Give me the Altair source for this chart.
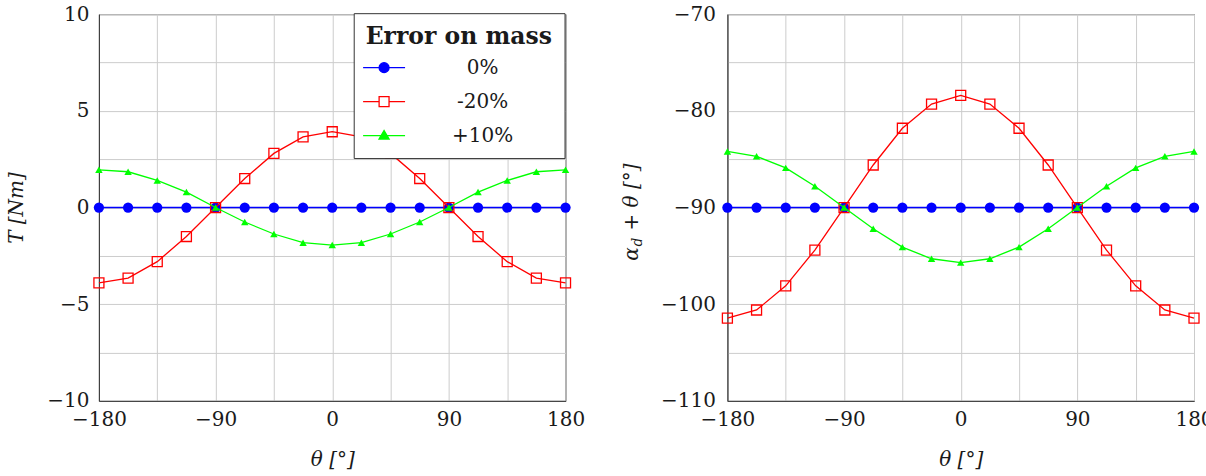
import altair as alt
import pandas as pd

# ---- data -------------------------------------------------------------
theta_deg = [-180, -157.5, -135, -112.5, -90, -67.5, -45, -22.5, 0,
             22.5, 45, 67.5, 90, 112.5, 135, 157.5, 180]

series_names = ["0%", "-20%", "+10%"]

# Torque T [Nm] for each mass error
torque_nominal = [0, 0, 0, 0, 0, 0, 0, 0, 0, 0, 0, 0, 0, 0, 0, 0, 0]
torque_minus20 = [-3.9, -3.65, -2.8, -1.5, 0, 1.5, 2.8, 3.65, 3.92,
                  3.65, 2.8, 1.5, 0, -1.5, -2.8, -3.65, -3.9]
torque_plus10 = [1.95, 1.85, 1.4, 0.8, 0, -0.75, -1.37, -1.82, -1.94,
                 -1.82, -1.37, -0.75, 0, 0.8, 1.4, 1.85, 1.95]

# Angle alpha_d + theta [deg] for each mass error
angle_nominal = [-90, -90, -90, -90, -90, -90, -90, -90, -90,
                 -90, -90, -90, -90, -90, -90, -90, -90]
angle_minus20 = [-101.45, -100.6, -98.1, -94.4, -90, -85.6, -81.8, -79.3, -78.4,
                 -79.3, -81.8, -85.6, -90, -94.4, -98.1, -100.6, -101.45]
angle_plus10 = [-84.2, -84.7, -85.9, -87.8, -90, -92.2, -94.1, -95.3, -95.7,
                -95.3, -94.1, -92.2, -90, -87.8, -85.9, -84.7, -84.2]

x_grid = [-180, -135, -90, -45, 0, 45, 90, 135, 180]
torque_grid = [-10, -7.5, -5, -2.5, 0, 2.5, 5, 7.5, 10]
angle_grid = [-110, -105, -100, -95, -90, -85, -80, -75, -70]

# ---- styling ----------------------------------------------------------
BLUE, RED, GREEN = "#0000ff", "#ff0000", "#00ff00"
SERIF = "DejaVu Serif"
FS = 20
INK = "#1a1a1a"
PW, PH = 467, 387

styles = [
    # name, colour, shape, size, filled
    ("0%", BLUE, "circle", 105, True),
    ("-20%", RED, "square", 100, False),
    ("+10%", GREEN, "triangle-up", 55, True),
]

# Legend glyphs: a short line with the marker on it (unit = sqrt(size)/2 px)
legend_paths = [
    "M-1.8,0H4.2M1.91,0A0.71,0.71,0,1,1,0.49,0A0.71,0.71,0,1,1,1.91,0Z",
    "M-1.8,0H0.49M1.91,0H4.2M0.49,-0.71H1.91V0.71H0.49Z",
    "M-1.8,0H4.2M1.2,-0.72L1.92,0.5H0.48Z",
]


def long_table(columns):
    rows = []
    for name, vals in zip(series_names, columns):
        for t, v in zip(theta_deg, vals):
            rows.append({"theta": t, "value": v, "series": name})
    return pd.DataFrame(rows)


def x_encoding():
    return alt.X(
        "theta:Q",
        scale=alt.Scale(domain=[-180, 180], nice=False, zero=False),
        axis=alt.Axis(
            values=x_grid,
            labelExpr="datum.value % 90 === 0 ? datum.label : ''",
            labelFlush=False,
            title="θ [°]",
            titleFontStyle="italic",
            labelPadding=9,
            titlePadding=20,
        ),
    )


def series_layers(df, x_enc, y_enc):
    layers = []
    for name, col, shape, size, filled in styles:
        base = alt.Chart(df).transform_filter(alt.datum.series == name)
        layers.append(
            base.mark_line(color=col, strokeWidth=1.3).encode(x=x_enc, y=y_enc)
        )
        layers.append(
            base.mark_point(
                shape=shape, size=size, filled=filled, color=col,
                strokeWidth=1.3, opacity=1,
            ).encode(x=x_enc, y=y_enc)
        )
    return layers


# ---- left panel: torque ----------------------------------------------
df_t = long_table([torque_nominal, torque_minus20, torque_plus10])
x_t = x_encoding()
y_t = alt.Y(
    "value:Q",
    scale=alt.Scale(domain=[-10, 10], nice=False, zero=False),
    axis=alt.Axis(
        values=torque_grid,
        labelExpr="datum.value % 5 === 0 ? datum.label : ''",
        labelFlush=False,
        title="T [Nm]",
        titleFontStyle="italic",
        labelPadding=10,
        titlePadding=20,
    ),
)

legend_layer = alt.Chart(df_t).mark_point(size=0, strokeWidth=1.3, opacity=1).encode(
    x=x_t,
    y=y_t,
    color=alt.Color("series:N", scale=alt.Scale(domain=series_names, range=[BLUE, RED, GREEN]),
                    legend=alt.Legend(title="Error on mass")),
    fill=alt.Fill("series:N", scale=alt.Scale(domain=series_names, range=[BLUE, "transparent", GREEN]),
                  legend=alt.Legend(title="Error on mass")),
    shape=alt.Shape("series:N", scale=alt.Scale(domain=series_names, range=legend_paths),
                    legend=alt.Legend(title="Error on mass")),
)

left = alt.layer(*series_layers(df_t, x_t, y_t), legend_layer).properties(width=PW, height=PH)

# ---- right panel: alpha_d + theta -----------------------------------
df_a = long_table([angle_nominal, angle_minus20, angle_plus10])
x_a = x_encoding()
y_a = alt.Y(
    "value:Q",
    scale=alt.Scale(domain=[-110, -70], nice=False, zero=False),
    axis=alt.Axis(
        values=angle_grid,
        labelExpr="datum.value % 10 === 0 ? datum.label : ''",
        labelFlush=False,
        title=None,
        labelPadding=12,
    ),
)

title_df = pd.DataFrame({"t": ["α", "d", "+ θ [°]"]})
alpha_txt = alt.Chart(title_df).transform_filter(alt.datum.t == "α").mark_text(
    font=SERIF, fontSize=FS, fontStyle="italic", angle=270, align="center",
    baseline="alphabetic", color=INK,
).encode(text="t:N", x=alt.value(-89), y=alt.value(240))
sub_txt = alt.Chart(title_df).transform_filter(alt.datum.t == "d").mark_text(
    font=SERIF, fontSize=14, fontStyle="italic", angle=270, align="center",
    baseline="alphabetic", color=INK,
).encode(text="t:N", x=alt.value(-85), y=alt.value(228))
rest_txt = alt.Chart(title_df).transform_filter(alt.datum.t == "+ θ [°]").mark_text(
    font=SERIF, fontSize=FS, fontStyle="italic", angle=270, align="center",
    baseline="alphabetic", color=INK,
).encode(text="t:N", x=alt.value(-89), y=alt.value(183))

right = alt.layer(*series_layers(df_a, x_a, y_a), alpha_txt, sub_txt, rest_txt).properties(
    width=PW, height=PH
)

chart = (
    alt.hconcat(left, right, spacing=36)
    # the last tick label of the right panel runs past the page edge
    .properties(padding={"left": 6, "top": 3, "right": -8, "bottom": 0})
    .configure_view(stroke="#333333", strokeWidth=1)
    .configure_axis(
        labelFont=SERIF, labelFontSize=FS, labelColor=INK,
        titleFont=SERIF, titleFontSize=FS, titleFontWeight="normal", titleColor=INK,
        domainColor="#333333", domainWidth=1, ticks=False,
        gridColor="#cccccc", gridWidth=1, gridOpacity=1,
    )
    .configure_legend(
        orient="none", legendX=255, legendY=-1,
        padding=12, strokeColor="#333333", fillColor="white", cornerRadius=0,
        titleFont=SERIF, titleFontSize=23.5, titleFontWeight="bold", titleLimit=400,
        titleColor=INK, titlePadding=9, titleAnchor="start",
        labelFont=SERIF, labelFontSize=FS, labelColor=INK,
        labelAlign="center", labelOffset=97,
        symbolSize=196, symbolStrokeWidth=1.3, rowPadding=14,
    )
)

chart.save("out.html", embed_options={"renderer": "svg", "actions": False})
